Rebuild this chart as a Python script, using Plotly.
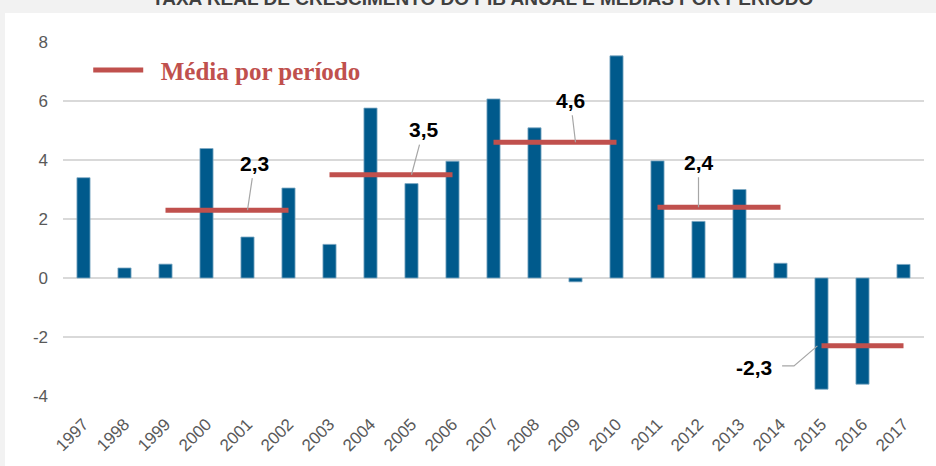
import plotly.graph_objects as go

years = [str(y) for y in range(1997, 2018)]
growth = [3.4, 0.34, 0.47, 4.39, 1.39, 3.05, 1.14, 5.76, 3.2, 3.96, 6.07, 5.09,
          -0.13, 7.53, 3.97, 1.92, 3.0, 0.5, -3.77, -3.6, 0.46]

period_start = ["1999", "2003", "2007", "2011", "2015"]
period_end = ["2002", "2006", "2010", "2014", "2017"]
period_mean = [2.3, 3.5, 4.6, 2.4, -2.3]
label_anchor = ["2001", "2005", "2009", "2012", "2015"]
label_ax = [7, 12, -5, 0, -64]
label_ay = [-47, -45, -42, -45, 22]

y_tickvals = [-4, -2, 0, 2, 4, 6, 8]
y_ticktext = ["-4", "-2", "0", "2", "4", "6", "8"]

title_text = "TAXA REAL DE CRESCIMENTO DO PIB ANUAL E MÉDIAS POR PERÍODO"

BAR = "#005a8c"
RED = "#c0504d"
FONT = "Liberation Sans"

fig = go.Figure()
fig.add_trace(go.Bar(x=years, y=growth, marker_color=BAR, showlegend=False,
                     marker_line_width=0.8, marker_line_color="#7fa9c4"))

for i, (s, e, m) in enumerate(zip(period_start, period_end, period_mean)):
    fig.add_trace(go.Scatter(x=[s, e], y=[m, m], mode="lines",
                             line=dict(color=RED, width=5),
                             name="\u00a0\u00a0Média por período", legendgroup="m",
                             showlegend=(i == 0)))

for i, (a, m) in enumerate(zip(label_anchor, period_mean)):
    txt = f"{m:.1f}".replace(".", ",")
    xi = years.index(a)
    if i < 4:
        fig.add_annotation(x=xi, y=m, xref="x", yref="y", text=f"<b>{txt}</b>",
                           showarrow=True, arrowhead=0, arrowwidth=1.2,
                           arrowcolor="#a6a6a6", ax=label_ax[i], ay=label_ay[i],
                           standoff=0, startstandoff=2,
                           font=dict(family=FONT, size=21, color="#000000"))
    else:
        fig.add_annotation(x=xi, y=m, xref="x", yref="y", text=f"<b>{txt}</b>",
                           showarrow=False, xshift=label_ax[i] - 4, yshift=-label_ay[i],
                           font=dict(family=FONT, size=21, color="#000000"))
        # bent leader line (paper coords)
        fig.add_shape(type="path", xref="paper", yref="paper",
                      path="M 0.8352,0.085 L 0.8490,0.085 L 0.8762,0.1417",
                      line=dict(color="#a6a6a6", width=1.2))

# white chart area over grey page
fig.add_shape(type="rect", xref="paper", yref="paper", x0=-0.0674, x1=1.1,
              y0=-0.3, y1=1.0819, fillcolor="white", line_width=0, layer="below")

fig.add_annotation(xref="paper", yref="paper", x=0.487, y=1.0876,
                   xanchor="center", yanchor="bottom", showarrow=False,
                   text=f"<b>{title_text}</b>",
                   font=dict(family=FONT, size=19, color="#404040"))

fig.update_layout(
    width=936, height=466,
    margin=dict(l=63, r=12, t=42, b=70),
    paper_bgcolor="#f2f2f2", plot_bgcolor="rgba(0,0,0,0)",
    bargap=0.68, separators=",.",
    font=dict(family=FONT, color="#595959"),
    legend=dict(x=0.0293, y=0.985, xanchor="left", yanchor="top",
                bgcolor="rgba(0,0,0,0)", itemwidth=50,
                font=dict(family="Liberation Serif", size=25, color=RED, weight="bold")),
)
fig.update_xaxes(type="category", categoryorder="array", categoryarray=years,
                 range=[-0.5, 20.5], tickangle=-45, showgrid=False, showline=False,
                 ticks="", tickfont=dict(size=17, color="#595959"), automargin=False,
                 ticklabelstandoff=14)
fig.update_yaxes(range=[-4, 8], tickvals=y_tickvals, ticktext=y_ticktext,
                 showgrid=True, gridcolor="#d9d9d9",
                 gridwidth=1.5, zeroline=True, zerolinecolor="#d9d9d9", zerolinewidth=1.5,
                 showline=False, ticks="", tickfont=dict(size=17, color="#595959"),
                 ticklabelstandoff=14, automargin=False)

fig.write_html("out.html", config={"displayModeBar": False},
               post_script="document.body.style.margin='0';document.body.style.overflow='hidden';")
